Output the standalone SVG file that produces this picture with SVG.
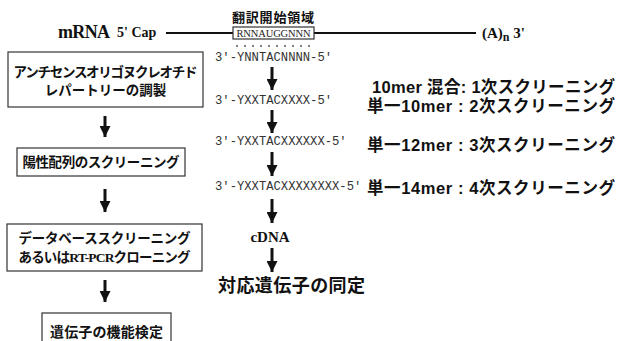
<svg xmlns="http://www.w3.org/2000/svg" width="618" height="341" viewBox="0 0 618 341">
<defs>
<marker id="ah" markerUnits="userSpaceOnUse" markerWidth="11" markerHeight="11" viewBox="0 0 10 10" refX="10" refY="5" orient="auto">
<path d="M0,0 L10,5 L0,10 Z" fill="#111"/>
</marker>
<style>
.box{fill:#fff;stroke:#333;stroke-width:1.2}
.jp{font-family:"Noto Sans CJK JP","Liberation Sans",sans-serif;font-weight:bold;fill:#111}
.rt{font-family:"Liberation Sans","Noto Sans CJK JP",sans-serif;font-weight:bold;fill:#111;font-size:16.5px}
.seq{font-family:"Liberation Mono","Courier New",monospace;fill:#333;font-size:12.2px}
.ser{font-family:"Liberation Serif","Times New Roman",serif;font-weight:bold;fill:#111}
.arr{stroke:#111;stroke-width:3;marker-end:url(#ah)}
.ln{stroke:#111;stroke-width:2}
</style>
</defs>

<g id="mrna">
<text class="ser" x="58" y="38" font-size="18" textLength="52">mRNA</text>
<text class="ser" x="117" y="37" font-size="14">5' Cap</text>
<line class="ln" x1="166" y1="33" x2="233" y2="33"/>
<line class="ln" x1="314" y1="33" x2="476" y2="33"/>
<text class="jp" x="273" y="22" font-size="13" text-anchor="middle" textLength="82">翻訳開始領域</text>
<rect class="box" x="233" y="27" width="81" height="12" stroke-width="1"/>
<text x="273.5" y="37" font-family="Liberation Serif,serif" font-size="10.5" fill="#222" text-anchor="middle" textLength="74">RNNAUGGNNN</text>
<text class="ser" x="482" y="38" font-size="15">(A)<tspan font-size="12" dy="3">n</tspan><tspan font-size="15" dy="-3"> 3'</tspan></text>
<g fill="#444">
<circle cx="237" cy="46" r="0.9"/><circle cx="245" cy="46" r="0.9"/><circle cx="253" cy="46" r="0.9"/><circle cx="261" cy="46" r="0.9"/><circle cx="269" cy="46" r="0.9"/><circle cx="277" cy="46" r="0.9"/><circle cx="285" cy="46" r="0.9"/><circle cx="293" cy="46" r="0.9"/><circle cx="301" cy="46" r="0.9"/><circle cx="309" cy="46" r="0.9"/>
</g>
</g>

<g id="box1">
<rect class="box" x="8" y="52" width="195" height="55"/>
<text class="jp" x="105.5" y="77" font-size="13.5" text-anchor="middle" textLength="184">アンチセンスオリゴヌクレオチド</text>
<text class="jp" x="105.5" y="95" font-size="13.5" text-anchor="middle">レパートリーの調製</text>
</g>
<g id="box2">
<rect class="box" x="17" y="148" width="168" height="28"/>
<text class="jp" x="101" y="167" font-size="13.5" text-anchor="middle" textLength="157">陽性配列のスクリーニング</text>
</g>
<g id="box3">
<rect class="box" x="7" y="224" width="195" height="47"/>
<text class="jp" x="104.5" y="243" font-size="13.5" text-anchor="middle" textLength="172">データベーススクリーニング</text>
<text class="jp" x="104.5" y="262" font-size="13.5" text-anchor="middle" textLength="172">あるいは<tspan font-family="Liberation Serif,serif">RT-PCR</tspan>クローニング</text>
</g>
<g id="box4">
<rect class="box" x="42" y="313" width="129" height="40"/>
<text class="jp" x="106.5" y="337" font-size="14" text-anchor="middle" textLength="113">遺伝子の機能検定</text>
</g>

<g id="seq1"><text class="seq" x="215" y="61">3′-YNNTACNNNN-5′</text></g>
<g id="seq2"><text class="seq" x="215" y="104">3′-YXXTACXXXX-5'</text></g>
<g id="seq3"><text class="seq" x="215" y="145">3′-YXXTACXXXXXX-5'</text></g>
<g id="seq4"><text class="seq" x="215" y="190">3′-YXXTACXXXXXXXX-5'</text></g>
<g id="cdna"><text class="ser" x="270" y="242" font-size="15" text-anchor="middle">cDNA</text></g>
<g id="result"><text class="jp" x="218" y="292" font-size="18" textLength="147">対応遺伝子の同定</text></g>

<g id="labels">
<text class="rt" x="372" y="93" textLength="243">10mer 混合: 1次スクリーニング</text>
<text class="rt" x="367" y="112" textLength="248">単一10mer : 2次スクリーニング</text>
<text class="rt" x="367" y="151" textLength="248">単一12mer : 3次スクリーニング</text>
<text class="rt" x="367" y="194" textLength="248">単一14mer : 4次スクリーニング</text>
</g>

<g id="connectors">
<line class="arr" x1="105" y1="116" x2="105" y2="137"/>
<line class="arr" x1="105" y1="189" x2="105" y2="212"/>
<line class="arr" x1="105" y1="280" x2="105" y2="302"/>
<line class="arr" x1="272" y1="67" x2="272" y2="90"/>
<line class="arr" x1="272" y1="110" x2="272" y2="133"/>
<line class="arr" x1="272" y1="152" x2="272" y2="176"/>
<line class="arr" x1="272" y1="199" x2="272" y2="223"/>
<line class="arr" x1="272" y1="248" x2="272" y2="272"/>
</g>
</svg>
